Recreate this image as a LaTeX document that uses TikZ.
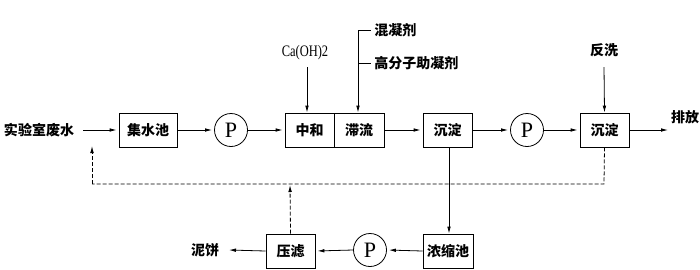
\documentclass[tikz,border=0pt]{standalone}
\usepackage{fontspec}
\setmainfont{Liberation Serif}
\newfontfamily\cjk{Noto Sans CJK SC}
\usetikzlibrary{arrows.meta}
\begin{document}
\begin{tikzpicture}[x=1pt,y=-1pt,
  line width=0.8pt,
  arr/.style={-{Latex[length=7pt,width=3.6pt]}},
  box/.style={draw,minimum width=49pt,minimum height=34pt,inner sep=0pt,font=\cjk\bfseries\fontsize{14}{16}\selectfont},
  pump/.style={draw,circle,minimum size=33pt,inner sep=0pt,font=\fontsize{22}{24}\selectfont},
  lbl/.style={inner sep=0pt,font=\cjk\bfseries\fontsize{14}{16}\selectfont},
  fb/.style={dashed,dash pattern=on 4pt off 2pt}]
\useasboundingbox (0,0) rectangle (700,269);
% top row
\node[lbl] (src) at (39,130) {实验室废水};
\node[box,minimum width=58pt] (jsc) at (148,130) {集水池};
\node[pump] (p1) at (231,130) {P};
\node[box] (zh) at (309.5,130) {中和};
\node[box,minimum width=50pt] (zl) at (359,130) {滞流};
\node[box] (cd1) at (447.5,130) {沉淀};
\node[pump] (p2) at (527,130) {P};
\node[box] (cd2) at (604.5,130) {沉淀};
\node[lbl] (pf) at (685,117) {排放};
\coordinate (pfend) at (668,130);
% reagents
\node[inner sep=0pt,font=\fontsize{16}{18}\selectfont] (ca) at (305,52.5) {\scalebox{0.78}[1]{Ca(OH)2}};
\coordinate (ca0) at (307,67);
\node[lbl,anchor=west] (hnj) at (374,30) {混凝剂};
\node[lbl,anchor=west] (gfz) at (374,63) {高分子助凝剂};
\coordinate (r0) at (358,30);
\coordinate (r1) at (358,63);
\node[lbl] (fx) at (604,50) {反洗};
\coordinate (fx0) at (604,67);
% bottom row
\node[box,minimum width=50pt] (nsc) at (448,251) {浓缩池};
\node[pump] (p3) at (370,250) {P};
\node[box] (yl) at (290.5,251) {压滤};
\node[lbl] (nb) at (205,250) {泥饼};
\coordinate (nbend) at (229,250);
% feedback coordinates
\coordinate (d1) at (604,184);
\coordinate (d2) at (92,184);
\coordinate (d3) at (92,146);
\coordinate (d4) at (290,185);

% connectors
\draw[arr,shorten >=2pt] ([xshift=9pt]src.east) -- (jsc.west);
\draw[arr,shorten >=2pt] (jsc.east) -- (p1.west);
\draw[arr,shorten >=2pt] (p1.east) -- (zh.west);
\draw[arr,shorten >=2pt] (zl.east) -- (cd1.west);
\draw[arr,shorten >=2pt] (cd1.east) -- (p2.west);
\draw[arr,shorten >=2pt] (p2.east) -- (cd2.west);
\draw[arr] (cd2.east) -- (pfend);
\draw[arr] (ca0) -- (ca0 |- zh.north);
\draw (r0) -- ([xshift=-3pt]hnj.west);
\draw (r1) -- ([xshift=-3pt]gfz.west);
\draw[arr] (r0) -- (r0 |- zl.north);
\draw[arr] (fx0) -- (cd2.north);
\draw[arr] ([xshift=1.5pt]cd1.south) -- ([xshift=1pt]nsc.north);
\draw[arr,shorten >=2pt] (nsc.west) -- (p3.east);
\draw[arr,shorten >=2pt] (p3.west) -- (yl.east);
\draw[arr] (yl.west) -- (nbend);
\draw[fb] (cd2.south) -- (d1) -- (d2);
\draw[fb,arr] (d2) -- (d3);
\draw[fb,arr] (yl.north) -- (d4);
\end{tikzpicture}
\end{document}
